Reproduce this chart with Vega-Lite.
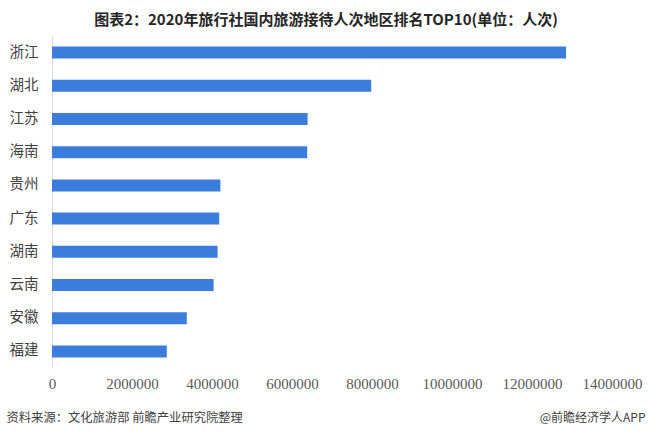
{
  "$schema": "https://vega.github.io/schema/vega-lite/v6.json",
  "width": 560,
  "height": 332,
  "autosize": {"type": "none"},
  "padding": {"left": 52, "top": 36, "right": 38, "bottom": 70},
  "background": "#ffffff",
  "title": {
    "text": "图表2：2020年旅行社国内旅游接待人次地区排名TOP10(单位：人次)",
    "font": "Noto Sans CJK SC",
    "fontSize": 15,
    "fontWeight": "bold",
    "color": "#262626",
    "anchor": "middle",
    "baseline": "middle",
    "offset": 10,
    "dx": -6,
    "dy": 9
  },
  "data": {
    "values": [
      {"region": "浙江", "value": 12850000},
      {"region": "湖北", "value": 7980000},
      {"region": "江苏", "value": 6390000},
      {"region": "海南", "value": 6380000},
      {"region": "贵州", "value": 4210000},
      {"region": "广东", "value": 4180000},
      {"region": "湖南", "value": 4140000},
      {"region": "云南", "value": 4040000},
      {"region": "安徽", "value": 3370000},
      {"region": "福建", "value": 2870000}
    ]
  },
  "config": {
    "view": {"stroke": null},
    "axis": {"grid": false}
  },
  "mark": {"type": "bar", "color": "#3b7ddd"},
  "encoding": {
    "y": {
      "field": "region",
      "type": "nominal",
      "sort": null,
      "scale": {"paddingInner": 0.64, "paddingOuter": 0.32},
      "axis": {
        "ticks": false,
        "tickSize": 0,
        "domain": true,
        "domainColor": "#d9d9d9",
        "domainWidth": 1,
        "labelFont": "Noto Sans CJK SC",
        "labelFontSize": 14.5,
        "labelColor": "#404040",
        "labelPadding": 14,
        "title": "@前瞻经济学人APP",
        "titleAngle": 0,
        "titleX": 593,
        "titleY": 381,
        "titleAlign": "right",
        "titleBaseline": "middle",
        "titleFont": "Noto Sans CJK SC",
        "titleFontSize": 12,
        "titleFontWeight": "normal",
        "titleColor": "#404040"
      }
    },
    "x": {
      "field": "value",
      "type": "quantitative",
      "scale": {"domain": [0, 14000000], "nice": false},
      "axis": {
        "values": [0, 2000000, 4000000, 6000000, 8000000, 10000000, 12000000, 14000000],
        "format": "d",
        "domain": false,
        "ticks": false,
        "tickSize": 0,
        "labelFont": "Liberation Serif",
        "labelFontSize": 15,
        "labelColor": "#595959",
        "labelPadding": 8,
        "labelFlush": false,
        "labelOverlap": false,
        "title": "资料来源：文化旅游部 前瞻产业研究院整理",
        "titleAnchor": "start",
        "titleAlign": "left",
        "titleBaseline": "middle",
        "titleX": -46,
        "titleY": 49,
        "titleFont": "Noto Sans CJK SC",
        "titleFontSize": 12.3,
        "titleFontWeight": "normal",
        "titleColor": "#404040"
      }
    }
  }
}
